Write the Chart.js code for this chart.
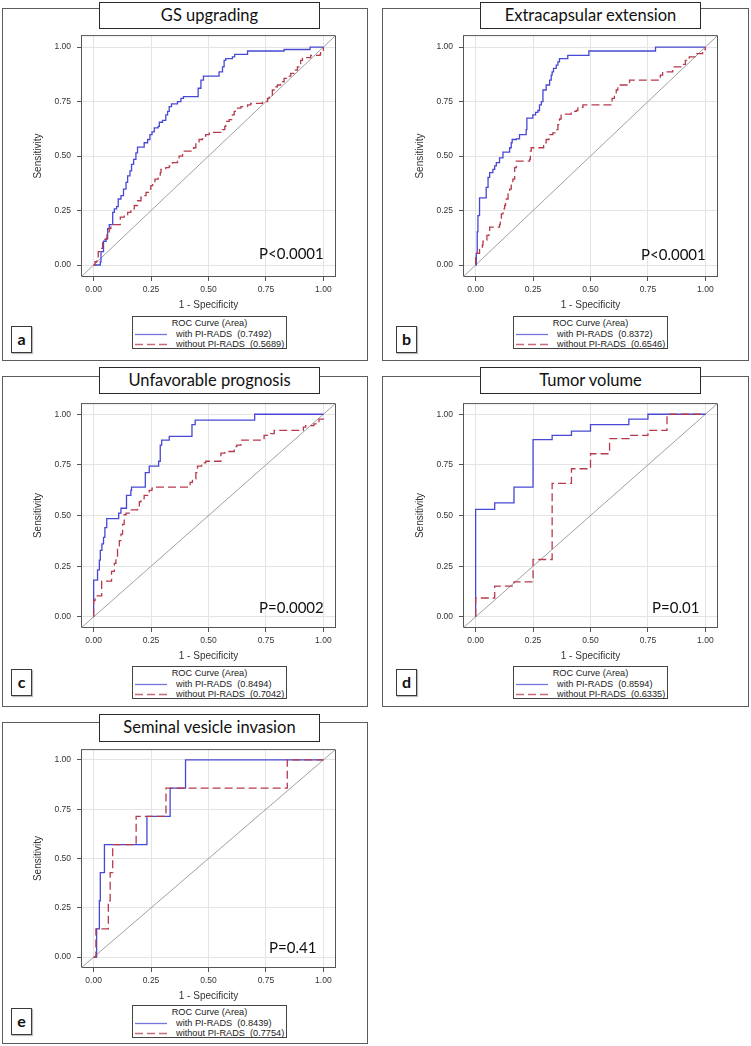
<!DOCTYPE html>
<html>
<head>
<meta charset="utf-8">
<title>ROC curves with and without PI-RADS</title>
<script src="https://cdn.jsdelivr.net/npm/chart.js@4.4.1/dist/chart.umd.min.js"></script>
<style>
  body { margin: 0; background: #fff; }
  #page { position: relative; width: 751px; height: 1046px; overflow: hidden; background: #fff; }
  .panel { position: absolute; box-sizing: border-box; border: 1.5px solid #5c5c5c; }
  .title { position: absolute; box-sizing: border-box; border: 1.5px solid #2a2a2a; background: #fff;
           font: 16.5px Lato, "Open Sans", sans-serif; color: #111; text-align: center; }
  .tag { position: absolute; box-sizing: border-box; border: 1.5px solid #3a3a3a; background: #fff;
         font: bold 16px Lato, sans-serif; color: #111; text-align: center; box-shadow: 1px 1px 1px #bbb; }
  .pval { position: absolute; font: 15px Lato, "Open Sans", sans-serif; color: #111; white-space: nowrap;
          line-height: 18px; transform: translateY(-50%); }
  .legend { position: absolute; box-sizing: border-box; border: 1px solid #444; background: #fff;
            font: 9.2px "Liberation Sans", Arial, sans-serif; color: #222; line-height: 10.5px; }
  .legend .head { text-align: center; padding-top: 1px; }
  .legend .row { position: relative; height: 10.5px; white-space: pre; }
  .legend svg { position: absolute; left: 1px; top: 0; }
  .legend .row span { position: absolute; left: 43px; top: 0; }
  canvas { position: absolute; }
</style>
</head>
<body>
<div id="page"></div>
<script>
// panel labels and stats
const titles = ['GS upgrading', 'Extracapsular extension', 'Unfavorable prognosis', 'Tumor volume', 'Seminal vesicle invasion'];
const letters = ['a', 'b', 'c', 'd', 'e'];
const pValues = ['P<0.0001', 'P<0.0001', 'P=0.0002', 'P=0.01', 'P=0.41'];
const aucWith = [0.7492, 0.8372, 0.8494, 0.8594, 0.8439];
const aucWithout = [0.5689, 0.6546, 0.7042, 0.6335, 0.7754];
const tickValues = [0, 0.25, 0.5, 0.75, 1];
const axisMin = -0.055;
const axisMax = 1.055;

// ROC curves: [1 - specificity, sensitivity]
const gsWith = [[0,0],[0.029,0.015],[0.032,0.061],[0.043,0.109],[0.054,0.121],[0.061,0.167],[0.068,0.185],[0.083,0.242],[0.09,0.258],[0.1,0.268],[0.107,0.303],[0.119,0.318],[0.13,0.348],[0.141,0.379],[0.148,0.409],[0.158,0.432],[0.165,0.462],[0.174,0.485],[0.184,0.515],[0.191,0.541],[0.213,0.541],[0.22,0.561],[0.235,0.576],[0.245,0.598],[0.254,0.611],[0.264,0.629],[0.281,0.636],[0.286,0.655],[0.3,0.664],[0.314,0.689],[0.322,0.705],[0.329,0.727],[0.339,0.739],[0.354,0.739],[0.365,0.75],[0.38,0.765],[0.391,0.773],[0.452,0.773],[0.455,0.811],[0.467,0.848],[0.478,0.867],[0.542,0.867],[0.546,0.886],[0.561,0.909],[0.568,0.939],[0.575,0.947],[0.604,0.955],[0.614,0.967],[0.662,0.967],[0.67,0.982],[0.822,0.982],[0.829,0.989],[0.938,0.989],[0.942,1],[1,1]];
const gsWithout = [[0,0],[0.006,0.015],[0.014,0.03],[0.02,0.061],[0.032,0.076],[0.039,0.106],[0.049,0.118],[0.058,0.152],[0.068,0.167],[0.075,0.185],[0.112,0.185],[0.116,0.22],[0.133,0.23],[0.148,0.242],[0.162,0.258],[0.177,0.273],[0.191,0.295],[0.206,0.311],[0.22,0.318],[0.228,0.333],[0.242,0.348],[0.249,0.364],[0.257,0.379],[0.267,0.394],[0.281,0.402],[0.29,0.424],[0.293,0.439],[0.314,0.447],[0.329,0.455],[0.343,0.47],[0.365,0.485],[0.372,0.5],[0.387,0.515],[0.394,0.523],[0.423,0.523],[0.435,0.538],[0.445,0.561],[0.459,0.576],[0.474,0.591],[0.488,0.598],[0.503,0.609],[0.554,0.612],[0.561,0.621],[0.571,0.636],[0.575,0.659],[0.59,0.667],[0.604,0.689],[0.612,0.705],[0.626,0.72],[0.641,0.727],[0.67,0.735],[0.684,0.742],[0.72,0.742],[0.735,0.75],[0.749,0.75],[0.757,0.765],[0.764,0.78],[0.778,0.803],[0.786,0.818],[0.8,0.826],[0.814,0.833],[0.822,0.841],[0.829,0.856],[0.843,0.867],[0.858,0.879],[0.872,0.894],[0.887,0.909],[0.894,0.924],[0.901,0.939],[0.909,0.952],[0.945,0.962],[0.986,0.967],[0.988,0.985],[1,1]];

const eceWith = [[0,0],[0.003,0.053],[0.007,0.152],[0.01,0.227],[0.017,0.308],[0.043,0.308],[0.046,0.356],[0.054,0.402],[0.061,0.424],[0.075,0.439],[0.083,0.455],[0.09,0.47],[0.104,0.492],[0.119,0.518],[0.141,0.518],[0.148,0.538],[0.155,0.561],[0.159,0.576],[0.177,0.579],[0.191,0.598],[0.213,0.598],[0.22,0.621],[0.223,0.674],[0.242,0.674],[0.249,0.689],[0.261,0.7],[0.271,0.709],[0.278,0.735],[0.286,0.75],[0.293,0.803],[0.307,0.826],[0.322,0.848],[0.329,0.871],[0.333,0.886],[0.339,0.902],[0.351,0.917],[0.358,0.932],[0.365,0.947],[0.397,0.947],[0.401,0.962],[0.488,0.962],[0.493,0.982],[0.778,0.982],[0.783,1],[1,1]];
const eceWithout = [[0,0],[0,0.053],[0.014,0.053],[0.017,0.076],[0.029,0.091],[0.032,0.109],[0.046,0.114],[0.049,0.136],[0.058,0.152],[0.061,0.174],[0.104,0.185],[0.107,0.212],[0.112,0.235],[0.119,0.258],[0.126,0.273],[0.13,0.303],[0.141,0.326],[0.148,0.348],[0.155,0.371],[0.162,0.394],[0.17,0.447],[0.177,0.477],[0.235,0.485],[0.238,0.523],[0.242,0.538],[0.29,0.538],[0.296,0.561],[0.307,0.576],[0.319,0.598],[0.336,0.606],[0.348,0.621],[0.358,0.644],[0.365,0.67],[0.372,0.692],[0.409,0.692],[0.416,0.705],[0.438,0.709],[0.445,0.724],[0.467,0.735],[0.59,0.735],[0.594,0.765],[0.604,0.78],[0.612,0.803],[0.619,0.826],[0.662,0.826],[0.67,0.848],[0.8,0.848],[0.804,0.871],[0.814,0.886],[0.858,0.909],[0.899,0.921],[0.913,0.939],[0.93,0.955],[0.959,0.97],[0.988,0.988],[1,1]];

const progWith = [[0,0],[0,0.181],[0.014,0.181],[0.017,0.232],[0.025,0.28],[0.029,0.328],[0.036,0.36],[0.043,0.392],[0.049,0.44],[0.057,0.485],[0.104,0.485],[0.109,0.512],[0.119,0.536],[0.141,0.536],[0.143,0.6],[0.162,0.624],[0.165,0.64],[0.22,0.64],[0.225,0.712],[0.242,0.744],[0.278,0.744],[0.283,0.768],[0.29,0.848],[0.296,0.872],[0.329,0.891],[0.42,0.891],[0.428,0.949],[0.442,0.971],[0.699,0.971],[0.701,1],[1,1]];
const progWithout = [[0,0],[0,0.08],[0.006,0.104],[0.032,0.104],[0.035,0.176],[0.072,0.176],[0.078,0.224],[0.09,0.264],[0.097,0.296],[0.104,0.344],[0.112,0.376],[0.119,0.408],[0.126,0.456],[0.133,0.504],[0.141,0.512],[0.155,0.528],[0.191,0.536],[0.199,0.568],[0.206,0.584],[0.22,0.6],[0.235,0.608],[0.242,0.624],[0.254,0.635],[0.264,0.64],[0.413,0.64],[0.42,0.664],[0.43,0.68],[0.445,0.712],[0.452,0.744],[0.47,0.76],[0.488,0.768],[0.546,0.768],[0.554,0.808],[0.571,0.816],[0.604,0.816],[0.612,0.84],[0.623,0.848],[0.641,0.872],[0.735,0.872],[0.742,0.896],[0.771,0.904],[0.786,0.92],[0.909,0.92],[0.913,0.936],[0.923,0.944],[0.959,0.952],[0.981,0.976],[1,1]];

const volWith = [[0,0],[0,0.53],[0.083,0.563],[0.167,0.64],[0.25,0.875],[0.333,0.896],[0.417,0.917],[0.5,0.949],[0.667,0.976],[0.75,1],[1,1]];
const volWithout = [[0,0],[0,0.093],[0.083,0.152],[0.167,0.173],[0.25,0.283],[0.333,0.659],[0.417,0.731],[0.5,0.805],[0.583,0.88],[0.667,0.896],[0.75,0.92],[0.833,1],[1,1]];

const sviWith = [[0,0],[0.013,0],[0.013,0.143],[0.025,0.286],[0.029,0.429],[0.047,0.571],[0.232,0.714],[0.333,0.857],[0.4,1],[1,1]];
const sviWithout = [[0,0],[0.01,0],[0.01,0.143],[0.064,0.286],[0.072,0.429],[0.083,0.571],[0.185,0.714],[0.315,0.857],[0.843,1],[1,1]];

const curvesWith = [gsWith, eceWith, progWith, volWith, sviWith];
const curvesWithout = [gsWithout, eceWithout, progWithout, volWithout, sviWithout];

// page geometry (left, top, width, height)
const layout = [
    { box: [2, 8, 366, 353], title: [99, 2, 221, 27], plot: [81, 32, 255, 245], legend: [132, 316, 155, 33], tag: [11, 326, 21, 27], pval: [259, 253] },
    { box: [382, 8, 367, 353], title: [480, 2, 221, 27], plot: [463, 32, 255, 245], legend: [513, 316, 155, 33], tag: [396, 326, 21, 27], pval: [641, 254] },
    { box: [2, 376, 366, 331], title: [99, 367, 221, 27], plot: [81, 400, 255, 228], legend: [132, 666, 155, 33], tag: [11, 669, 21, 27], pval: [259, 607] },
    { box: [382, 376, 367, 331], title: [480, 367, 221, 27], plot: [463, 400, 255, 228], legend: [513, 666, 155, 33], tag: [396, 669, 21, 27], pval: [652, 607] },
    { box: [2, 722, 366, 322], title: [99, 714, 221, 28], plot: [81, 746, 255, 222], legend: [132, 1005, 155, 33], tag: [11, 1008, 21, 27], pval: [269, 947] }
];

const BLUE = '#4848d4';
const RED = '#b63a4c';
const AXIS_W = 50, AXIS_H = 34, PAD = 8;
const labelFont = '"Liberation Sans", Arial, sans-serif';

function place(el, r) {
    el.style.left = r[0] + 'px';
    el.style.top = r[1] + 'px';
    if (r.length > 2) {
        el.style.width = r[2] + 'px';
        el.style.height = r[3] + 'px';
    }
}

const framePlugin = {
    id: 'frame',
    beforeDatasetsDraw(chart) {
        const { ctx, chartArea: a } = chart;
        ctx.save();
        ctx.strokeStyle = '#555';
        ctx.lineWidth = 1;
        ctx.strokeRect(a.left + 0.5, a.top + 0.5, a.right - a.left - 1, a.bottom - a.top - 1);
        ctx.restore();
    }
};

function axisOptions(title, isX) {
    return {
        type: 'linear',
        min: axisMin,
        max: axisMax,
        afterBuildTicks: s => { s.ticks = tickValues.map(v => ({ value: v })); },
        afterFit: s => { if (isX) s.height = AXIS_H; else s.width = AXIS_W; },
        ticks: {
            callback: v => Number(v).toFixed(2),
            color: '#333',
            font: { family: labelFont, size: 8.5 },
            padding: isX ? 4 : 6,
            maxRotation: 0,
            autoSkip: false
        },
        grid: { color: '#e4e4e4', tickColor: '#555', tickLength: 4 },
        border: { display: false },
        title: { display: true, text: title, color: '#333', font: { family: labelFont, size: 10 }, padding: { top: 1, bottom: 0 } }
    };
}

function legendRow(dashed, text) {
    const row = document.createElement('div');
    row.className = 'row';
    row.innerHTML = '<svg width="34" height="10"><line x1="1" y1="5.5" x2="33" y2="5.5" stroke="' +
        (dashed ? RED : BLUE) + '" stroke-width="1.3"' + (dashed ? ' stroke-dasharray="8,4"' : '') +
        ' opacity="0.75"/></svg><span>' + text + '</span>';
    return row;
}

function renderPanel(i) {
    const page = document.getElementById('page');
    const L = layout[i];

    const box = document.createElement('div');
    box.className = 'panel';
    place(box, L.box);
    page.appendChild(box);

    const canvas = document.createElement('canvas');
    const [px, py, pw, ph] = L.plot;
    const cw = pw + AXIS_W + PAD, ch = ph + AXIS_H + PAD;
    canvas.width = cw;
    canvas.height = ch;
    canvas.style.width = cw + 'px';
    canvas.style.height = ch + 'px';
    place(canvas, [px - AXIS_W, py - PAD]);
    page.appendChild(canvas);

    const title = document.createElement('div');
    title.className = 'title';
    place(title, L.title);
    title.style.lineHeight = (L.title[3] - 3) + 'px';
    title.textContent = titles[i];
    page.appendChild(title);

    const pval = document.createElement('div');
    pval.className = 'pval';
    place(pval, L.pval);
    pval.textContent = pValues[i];
    page.appendChild(pval);

    const legend = document.createElement('div');
    legend.className = 'legend';
    place(legend, L.legend);
    const head = document.createElement('div');
    head.className = 'head';
    head.textContent = 'ROC Curve (Area)';
    legend.appendChild(head);
    legend.appendChild(legendRow(false, 'with PI-RADS  (' + aucWith[i].toFixed(4) + ')'));
    legend.appendChild(legendRow(true, 'without PI-RADS  (' + aucWithout[i].toFixed(4) + ')'));
    page.appendChild(legend);

    const tag = document.createElement('div');
    tag.className = 'tag';
    place(tag, L.tag);
    tag.style.lineHeight = (L.tag[3] - 4) + 'px';
    tag.textContent = letters[i];
    page.appendChild(tag);

    const toPoints = pairs => pairs.map(p => ({ x: p[0], y: p[1] }));

    new Chart(canvas, {
        type: 'scatter',
        data: {
            datasets: [
                {
                    label: 'without PI-RADS',
                    data: toPoints(curvesWithout[i]),
                    showLine: true,
                    stepped: 'before',
                    borderColor: RED,
                    borderWidth: 1.3,
                    borderDash: [8, 4],
                    pointRadius: 0
                },
                {
                    label: 'with PI-RADS',
                    data: toPoints(curvesWith[i]),
                    showLine: true,
                    stepped: 'before',
                    borderColor: BLUE,
                    borderWidth: 1.3,
                    pointRadius: 0
                },
                {
                    label: 'chance',
                    data: toPoints([[axisMin, axisMin], [axisMax, axisMax]]),
                    showLine: true,
                    borderColor: '#a0a0a0',
                    borderWidth: 1,
                    pointRadius: 0
                }
            ]
        },
        options: {
            responsive: false,
            animation: false,
            layout: { padding: { top: PAD, right: PAD, left: 0, bottom: 0 } },
            plugins: { legend: { display: false }, tooltip: { enabled: false } },
            scales: {
                x: axisOptions('1 - Specificity', true),
                y: axisOptions('Sensitivity', false)
            }
        },
        plugins: [framePlugin]
    });
}

document.addEventListener('DOMContentLoaded', () => {
    for (let i = 0; i < titles.length; i++) renderPanel(i);
});
</script>
</body>
</html>
